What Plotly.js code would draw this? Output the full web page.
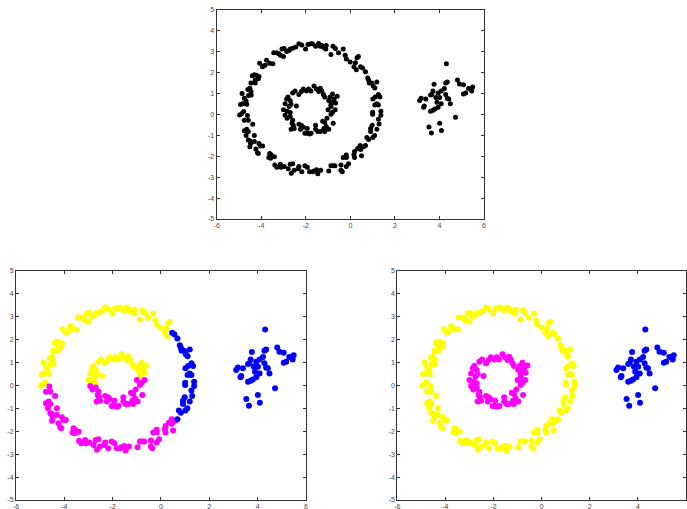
<!DOCTYPE html>
<html>
<head>
<meta charset="utf-8">
<script src="https://cdn.plot.ly/plotly-3.0.1.min.js"></script>
<style>html,body{margin:0;padding:0;background:#fff;}#chart{width:687px;height:509px;}</style>
</head>
<body>
<div id="chart"></div>
<script>
// Outer ring, upper arc (yellow in k-means panel)
const outerUpperX = [-4.97,-4.89,-4.79,-4.93,-4.84,-4.86,-4.76,-4.68,-4.65,-4.60,-4.51,-4.46,-4.57,-4.45,-4.40,-4.31,-4.21,-4.10,-4.46,-4.27,-4.27,-4.13,-4.07,-3.94,-3.83,-3.76,-3.62,-3.48,-3.44,-3.30,-3.21,-3.14,-3.00,-3.07,-2.97,-2.86,-2.75,-2.70,-2.59,-2.45,-2.31,-2.18,-2.01,-1.90,-1.77,-1.70,-1.56,-1.42,-1.35,-1.28,-1.19,-1.10,-1.08,-0.87,-0.78,-0.67,-0.53,-0.32,-0.23,-0.18,-0.005,0.30,0.36,0.23,0.16,0.27];
const outerUpperY = [-0.02,0.04,0.14,0.48,0.52,1.00,0.78,0.64,0.49,1.20,1.25,1.10,0.91,0.93,1.85,1.90,1.88,1.82,1.51,1.65,1.51,1.71,2.45,2.29,2.36,2.59,2.45,2.43,2.96,2.96,2.91,2.84,2.77,3.13,3.16,3.01,3.06,3.13,3.17,3.23,3.39,3.32,3.13,3.35,3.38,3.39,3.27,3.40,3.27,3.30,3.20,3.13,3.30,2.87,3.27,3.16,2.95,3.13,2.84,2.65,2.51,2.72,2.77,2.48,2.29,2.14];
// Outer ring, right arc (blue in k-means panel)
const outerRightX = [0.46,0.55,0.68,0.78,0.82,0.85,1.03,0.96,1.19,1.10,1.26,1.33,1.12,1.01,1.19,1.10,1.26,1.00,1.37,1.37,1.00,1.26,1.29,1.19,0.98,0.91,0.91,1.09,1.01,0.74,0.82,0.68];
const outerRightY = [2.29,2.23,2.04,1.75,1.65,1.51,1.36,1.51,1.56,1.27,0.96,0.84,0.84,0.74,0.52,0.45,0.45,0.01,0.16,-0.03,0.11,-0.23,-0.46,-0.71,-0.52,-0.67,-0.81,-1.00,-1.10,-1.10,-1.19,-1.48];
// Outer ring, lower arc (magenta in k-means panel)
const outerLowerX = [-4.62,-4.76,-4.58,-4.38,-4.76,-4.65,-4.58,-4.68,-4.58,-4.51,-4.48,-4.51,-4.31,-4.31,-4.10,-4.03,-3.94,-4.24,-4.17,-4.13,-3.62,-3.55,-3.41,-3.66,-3.58,-3.39,-3.30,-3.14,-3.11,-2.97,-2.70,-2.59,-2.79,-2.65,-2.52,-2.31,-2.34,-2.18,-2.04,-1.93,-1.83,-1.69,-1.63,-1.52,-1.46,-1.33,-0.97,-0.87,-0.78,-0.69,-0.42,-0.42,-0.36,-0.32,-0.18,-0.18,0.44,0.60,0.33,0.46,0.50,0.19,0.16,0.19,-0.18,-0.08];
const outerLowerY = [-0.05,-0.28,-0.28,-0.47,-0.78,-0.71,-0.81,-1.00,-1.22,-1.25,-1.39,-1.54,-1.00,-1.29,-1.39,-1.51,-1.51,-1.65,-1.83,-1.87,-1.87,-1.94,-2.02,-2.06,-2.09,-2.42,-2.52,-2.38,-2.52,-2.49,-2.38,-2.35,-2.60,-2.81,-2.67,-2.49,-2.60,-2.74,-2.45,-2.52,-2.74,-2.74,-2.70,-2.64,-2.84,-2.67,-2.70,-2.45,-2.45,-2.45,-2.41,-2.67,-2.74,-2.06,-2.06,-1.94,-1.48,-1.54,-1.63,-1.68,-1.97,-1.77,-1.91,-2.06,-2.49,-2.35];
// Inner ring, upper half (yellow in k-means panel)
const innerUpperX = [-3.00,-2.93,-2.86,-2.80,-2.70,-2.66,-2.75,-2.84,-2.59,-2.48,-2.42,-2.31,-2.20,-2.11,-1.97,-1.87,-1.77,-1.63,-1.52,-1.42,-1.35,-1.28,-1.21,-1.15,-0.97,-0.91,-0.80,-0.73,-0.66,-0.87,-0.59,-0.87,-0.80,-2.70];
const innerUpperY = [0.23,0.52,0.74,0.84,0.67,0.49,0.38,0.16,1.03,1.13,0.41,0.96,1.10,1.22,1.13,1.22,1.13,1.36,1.22,1.10,1.25,1.13,0.96,0.84,0.67,0.84,0.98,0.74,0.55,0.38,0.87,0.49,0.59,0.09];
// Inner ring, lower half (magenta in k-means panel)
const innerLowerX = [-0.68,-1.00,-2.93,-2.84,-2.70,-2.59,-2.62,-2.66,-2.56,-2.52,-2.31,-2.20,-2.24,-2.11,-1.93,-2.04,-1.93,-1.83,-1.76,-1.56,-1.56,-1.46,-1.35,-1.24,-1.15,-1.19,-1.15,-1.08,-0.97,-1.05,-0.87,-0.80,-0.77];
const innerLowerY = [0.23,0.23,-0.03,-0.18,-0.09,-0.28,-0.42,-0.71,-0.52,-0.67,-0.47,-0.52,-0.71,-0.61,-0.67,-0.90,-0.90,-0.93,-0.90,-0.52,-0.71,-0.81,-0.81,-0.32,-0.38,-0.67,-0.81,-0.57,-0.71,-0.18,0.01,0.11,-0.42];
// Separate cluster on the right
const clusterX = [4.31,3.11,3.18,3.29,3.39,3.60,3.71,3.76,3.66,3.84,3.94,4.01,4.08,3.89,4.08,4.22,4.28,4.35,4.28,4.35,4.42,4.49,3.60,3.71,3.80,3.94,3.32,4.81,4.90,5.08,5.31,5.49,5.45,5.18,5.08,4.72,3.53,4.01,3.64,4.09];
const clusterY = [2.43,0.67,0.78,0.35,0.74,0.93,1.13,1.45,0.96,0.81,1.03,0.81,1.13,0.59,0.52,1.24,1.51,1.56,0.96,0.78,0.74,0.52,0.16,0.20,0.26,0.35,0.41,1.65,1.46,1.42,1.24,1.31,1.13,1.03,0.98,-0.13,-0.60,-0.42,-0.89,-0.76];

const xTicks = [-6,-4,-2,0,2,4,6];
const xTickText = ['-6','-4','-2','0','2','4','6'];
const yTicks = [-5,-4,-3,-2,-1,0,1,2,3,4,5];
const yTickText = ['-5','-4','-3','-2','-1','0','1','2','3','4','5'];

const YELLOW = '#ffff00', MAGENTA = '#ff00ff', BLUE = '#0000ff', BLACK = '#000000';

function sc(x, y, color, size, xa, ya) {
  return {type: 'scatter', mode: 'markers', x: x, y: y, xaxis: xa, yaxis: ya,
          marker: {color: color, size: size, line: {width: 0}}, hoverinfo: 'skip', showlegend: false};
}
const allX = [].concat(outerUpperX, outerRightX, outerLowerX, innerUpperX, innerLowerX, clusterX);
const allY = [].concat(outerUpperY, outerRightY, outerLowerY, innerUpperY, innerLowerY, clusterY);

const traces = [
  sc(allX, allY, BLACK, 5, 'x', 'y'),
  // k-means style panel
  sc([].concat(outerUpperX, innerUpperX), [].concat(outerUpperY, innerUpperY), YELLOW, 6, 'x2', 'y2'),
  sc([].concat(outerLowerX, innerLowerX), [].concat(outerLowerY, innerLowerY), MAGENTA, 6, 'x2', 'y2'),
  sc([].concat(outerRightX, clusterX), [].concat(outerRightY, clusterY), BLUE, 6, 'x2', 'y2'),
  // spectral style panel
  sc([].concat(outerUpperX, outerRightX, outerLowerX), [].concat(outerUpperY, outerRightY, outerLowerY), YELLOW, 6, 'x3', 'y3'),
  sc([].concat(innerUpperX, innerLowerX), [].concat(innerUpperY, innerLowerY), MAGENTA, 6, 'x3', 'y3'),
  sc(clusterX, clusterY, BLUE, 6, 'x3', 'y3')
];

function xax(domain, anchor) {
  return {domain: domain, anchor: anchor, range: [-6, 6], tickmode: 'array', tickvals: xTicks, ticktext: xTickText,
          ticks: 'inside', ticklen: 3, tickcolor: '#333', showline: true, linecolor: '#333', linewidth: 1,
          mirror: 'ticks', showgrid: false, zeroline: false, tickfont: {size: 7, color: '#444', family: 'Liberation Sans, Arial, sans-serif'}};
}
function yax(domain, anchor) {
  return {domain: domain, anchor: anchor, range: [-5, 5], tickmode: 'array', tickvals: yTicks, ticktext: yTickText,
          ticks: 'inside', ticklen: 3, tickcolor: '#333', showline: true, linecolor: '#333', linewidth: 1,
          mirror: 'ticks', showgrid: false, zeroline: false, tickfont: {size: 7, color: '#444', family: 'Liberation Sans, Arial, sans-serif'}};
}

const layout = {
  width: 687, height: 509, margin: {l: 0, r: 0, t: 0, b: 0}, paper_bgcolor: '#fff', plot_bgcolor: '#fff',
  showlegend: false,
  xaxis: xax([0.3154, 0.7045], 'y'), yaxis: yax([0.5697, 0.9804], 'x'),
  xaxis2: xax([0.0233, 0.4454], 'y2'), yaxis2: yax([0.0177, 0.4682], 'x2'),
  xaxis3: xax([0.5783, 0.9985], 'y3'), yaxis3: yax([0.0177, 0.4682], 'x3')
};
Plotly.newPlot('chart', traces, layout, {displayModeBar: false, staticPlot: true});
</script>
</body>
</html>
